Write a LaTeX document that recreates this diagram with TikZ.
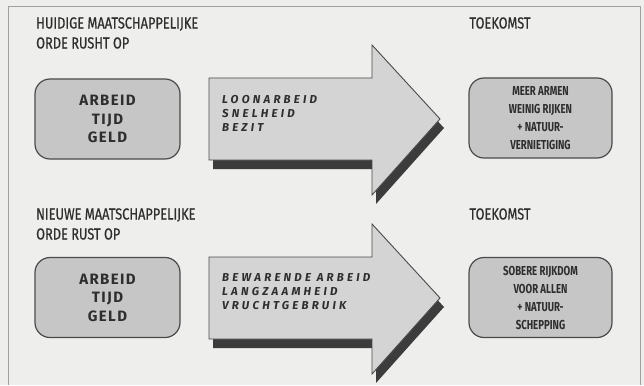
\documentclass[tikz,border=0pt]{standalone}
\usepackage{fontspec}
\setmainfont{Fira Sans}
\newfontfamily\headfont{Fira Sans}[FakeStretch=0.8, FakeBold=0.6]
\newfontfamily\boxfont{Fira Sans}[LetterSpace=9]
\newfontfamily\arrowfont{Fira Sans}[LetterSpace=28]
\newfontfamily\futfont{Fira Sans}[FakeStretch=0.74]
\definecolor{pagebg}{HTML}{EEEEEC}
\definecolor{framegrey}{HTML}{A0A0A0}
\definecolor{edge}{HTML}{4A4A4A}
\definecolor{boxgrey}{HTML}{C6C6C6}
\definecolor{arrowgrey}{HTML}{D4D4D4}
\definecolor{shadowgrey}{HTML}{3C3C3C}
\definecolor{ink}{HTML}{2E2E2E}
\newcommand{\bigarrow}{(209,78)--(372,78)--(372,45)--(440,119)--(372,195)--(372,160)--(209,160)--cycle}

\begin{document}
\begin{tikzpicture}[x=1pt,y=-1pt,
	head/.style={anchor=west, align=left, text=ink, font=\headfont\fontsize{16}{20}\selectfont, inner sep=0pt},
	rbox/.style={draw=edge, line width=1.2pt, fill=boxgrey, rounded corners=15pt, minimum width=145pt, minimum height=80pt, align=center, text=ink},
	nowtext/.style={font=\boxfont\bfseries\fontsize{15}{18.5}\selectfont},
	futtext/.style={font=\futfont\bfseries\fontsize{13}{18}\selectfont},
	arrtext/.style={anchor=west, align=left, text=ink, inner sep=0pt, font=\arrowfont\bfseries\itshape\fontsize{11.5}{14}\selectfont}]
	\useasboundingbox (0,0) rectangle (644,385);
	\fill[pagebg] (0,0) rectangle (644,385);
	\draw[framegrey, line width=0.9pt] (8,385)--(8,6.5)--(640,6.5)--(640,385);
	
	% bovenste rij
	\node[head] (hnow1) at (36,33) {HUIDIGE MAATSCHAPPELIJKE\\ORDE RUSHT OP};
	\node[head, anchor=center] (hfut1) at (500,23) {TOEKOMST};
	\node[rbox, nowtext] (now1) at (107.5,119) {ARBEID\\TIJD\\GELD};
	\fill[shadowgrey] [shift={(4,9)}] \bigarrow;
	\filldraw[fill=arrowgrey, draw=edge, line width=0.9pt] \bigarrow;
	\node[arrtext] (arr1) at (222,113) {LOONARBEID\\SNELHEID\\BEZIT};
	\node[rbox, futtext, minimum width=143pt] (fut1) at (540.5,118) {MEER ARMEN\\WEINIG RIJKEN\\+ NATUUR-\\VERNIETIGING};
	
	% onderste rij
	\node[head] (hnow2) at (36,224) {NIEUWE MAATSCHAPPELIJKE\\ORDE RUST OP};
	\node[head, anchor=center] (hfut2) at (500,214) {TOEKOMST};
	\node[rbox, nowtext] (now2) at (107.5,297.5) {ARBEID\\TIJD\\GELD};
	\begin{scope}[yshift=-179pt]
		\fill[shadowgrey] [shift={(4,9)}] \bigarrow;
		\filldraw[fill=arrowgrey, draw=edge, line width=0.9pt] \bigarrow;
	\end{scope}
	\node[arrtext] (arr2) at (222,292) {BEWARENDE ARBEID\\LANGZAAMHEID\\VRUCHTGEBRUIK};
	\node[rbox, futtext, minimum width=143pt] (fut2) at (540.5,297.5) {SOBERE RIJKDOM\\VOOR ALLEN\\+ NATUUR-\\SCHEPPING};
\end{tikzpicture}
\end{document}
